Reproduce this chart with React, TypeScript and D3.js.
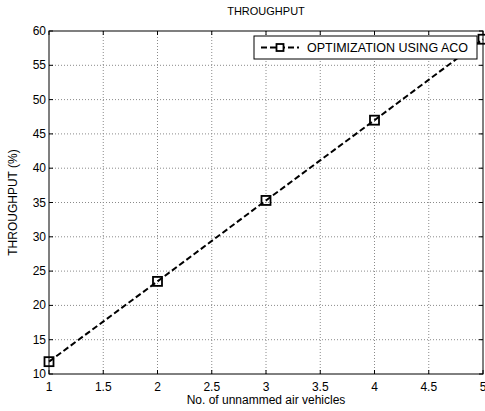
import React from "react";
import * as d3 from "d3";

const vehicles = [1, 2, 3, 4, 5];
const throughput = [11.8, 23.5, 35.3, 47.0, 58.8];
const xTicks = [1, 1.5, 2, 2.5, 3, 3.5, 4, 4.5, 5];
const yTicks = [10, 15, 20, 25, 30, 35, 40, 45, 50, 55, 60];
const seriesName = "OPTIMIZATION USING ACO";

const W = 485;
const H = 411;
const M = { left: 49, right: 483, top: 31, bottom: 374 };
const FONT = "'Liberation Sans', Arial, sans-serif";

export default function App() {
  const x = d3.scaleLinear().domain([1, 5]).range([M.left, M.right]);
  const y = d3.scaleLinear().domain([10, 60]).range([M.bottom, M.top]);
  const line = d3
    .line<number>()
    .x((_, i) => x(vehicles[i]))
    .y((d) => y(d));
  const pts = throughput.map((v, i) => [x(vehicles[i]), y(v)]);
  const tick = 4;
  const ms = 9;

  return (
    <svg
      width={W}
      height={H}
      style={{ position: "absolute", left: 0, top: 0, background: "#fff" }}
      fontFamily={FONT}
    >
      <rect x={0} y={0} width={W} height={H} fill="#fff" />
      {/* grid */}
      <g stroke="#8a8a8a" strokeWidth={1} strokeDasharray="1,2">
        {xTicks.slice(1, -1).map((t) => (
          <line key={"gx" + t} x1={x(t)} x2={x(t)} y1={M.top} y2={M.bottom} />
        ))}
        {yTicks.slice(1, -1).map((t) => (
          <line key={"gy" + t} x1={M.left} x2={M.right} y1={y(t)} y2={y(t)} />
        ))}
      </g>
      {/* ticks on all four sides */}
      <g stroke="#000" strokeWidth={1}>
        {xTicks.map((t) => (
          <g key={"tx" + t}>
            <line x1={x(t)} x2={x(t)} y1={M.bottom} y2={M.bottom - tick} />
            <line x1={x(t)} x2={x(t)} y1={M.top} y2={M.top + tick} />
          </g>
        ))}
        {yTicks.map((t) => (
          <g key={"ty" + t}>
            <line x1={M.left} x2={M.left + tick} y1={y(t)} y2={y(t)} />
            <line x1={M.right} x2={M.right - tick} y1={y(t)} y2={y(t)} />
          </g>
        ))}
      </g>
      <rect
        x={M.left}
        y={M.top}
        width={M.right - M.left}
        height={M.bottom - M.top}
        fill="none"
        stroke="#000"
        strokeWidth={1}
      />
      {/* tick labels */}
      <g fontSize={12} fill="#000">
        {xTicks.map((t) => (
          <text key={"lx" + t} x={x(t)} y={M.bottom + 17} textAnchor="middle">
            {t}
          </text>
        ))}
        {yTicks.map((t) => (
          <text key={"ly" + t} x={M.left - 3} y={y(t) + 4} textAnchor="end">
            {t}
          </text>
        ))}
      </g>
      {/* series */}
      <path
        d={line(throughput) || ""}
        fill="none"
        stroke="#000"
        strokeWidth={2}
        strokeDasharray="6,3"
      />
      {pts.map(([px, py], i) => (
        <rect
          key={"m" + i}
          x={px - ms / 2}
          y={py - ms / 2}
          width={ms}
          height={ms}
          fill="none"
          stroke="#000"
          strokeWidth={1.8}
        />
      ))}
      {/* titles */}
      <text x={266} y={15} textAnchor="middle" fontSize={11}>
        THROUGHPUT
      </text>
      <text x={266} y={404} textAnchor="middle" fontSize={12}>
        No. of unnammed air vehicles
      </text>
      <text
        transform={`translate(17, ${(M.top + M.bottom) / 2}) rotate(-90)`}
        textAnchor="middle"
        fontSize={12}
      >
        THROUGHPUT (%)
      </text>
      {/* legend */}
      <g>
        <rect x={254} y={36} width={223} height={23} fill="#fff" stroke="#000" strokeWidth={1} />
        <line x1={261} x2={299} y1={47.5} y2={47.5} stroke="#000" strokeWidth={2} strokeDasharray="6,3" />
        <rect x={276.5} y={44} width={7} height={7} fill="#fff" stroke="#000" strokeWidth={1.8} />
        <text x={307} y={52} fontSize={13} textLength={161} lengthAdjust="spacingAndGlyphs">
          {seriesName}
        </text>
      </g>
    </svg>
  );
}
